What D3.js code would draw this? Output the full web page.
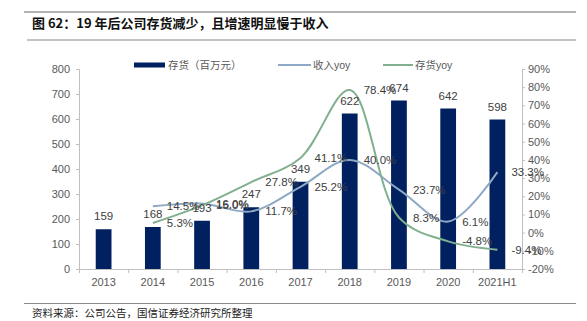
<!DOCTYPE html>
<html>
<head>
<meta charset="utf-8">
<script src="https://cdn.jsdelivr.net/npm/d3@7"></script>
<style>
  body { margin: 0; background: #fff; }
  svg { display: block; font-family: "Liberation Sans", Arial, sans-serif; }
  .cn { font-family: "Noto Sans CJK SC", sans-serif; }
</style>
</head>
<body>
<script>
  // chart data
  const years = ["2013", "2014", "2015", "2016", "2017", "2018", "2019", "2020", "2021H1"];
  const inventory = [159, 168, 193, 247, 349, 622, 674, 642, 598];
  const revenueYoy = [null, 14.5, 16.0, 11.7, 25.2, 40.0, 23.7, 6.1, 33.3];
  const inventoryYoy = [null, 5.3, 15.0, 27.8, 41.1, 78.4, 8.3, -4.8, -9.4];
  const leftTicks = [0, 100, 200, 300, 400, 500, 600, 700, 800];
  const rightTicks = [-20, -10, 0, 10, 20, 30, 40, 50, 60, 70, 80, 90];

  const W = 587, H = 321;
  const plot = { left: 79, right: 522, top: 69, bottom: 269 };

  const svg = d3.select("body").append("svg")
    .attr("width", W)
    .attr("height", H);

  // header / footer rules
  svg.append("line").attr("x1", 24).attr("x2", 576).attr("y1", 12).attr("y2", 12)
    .attr("stroke", "#6a6a6a").attr("stroke-width", 1.2);
  svg.append("line").attr("x1", 27).attr("x2", 576).attr("y1", 40).attr("y2", 40)
    .attr("stroke", "#8a8a8a").attr("stroke-width", 1.2);
  svg.append("line").attr("x1", 24).attr("x2", 576).attr("y1", 303.5).attr("y2", 303.5)
    .attr("stroke", "#8a8a8a").attr("stroke-width", 1.2);

  svg.append("text").attr("class", "cn")
    .attr("x", 32).attr("y", 28)
    .style("font-size", "13px").style("font-weight", "bold").attr("fill", "#111")
    .text("图 62：19 年后公司存货减少，且增速明显慢于收入");

  svg.append("text").attr("class", "cn")
    .attr("x", 32).attr("y", 317)
    .style("font-size", "10.5px").attr("fill", "#222")
    .text("资料来源：公司公告，国信证券经济研究所整理");

  // scales
  const x = d3.scaleBand().domain(years).range([plot.left, plot.right]).paddingInner(0.68).paddingOuter(0.34);
  const xc = d => x(d) + x.bandwidth() / 2;
  const y = d3.scaleLinear().domain([0, 800]).range([plot.bottom, plot.top]);
  const y2 = d3.scaleLinear().domain([-20, 90]).range([plot.bottom, plot.top]);

  const axisColor = "#bfbfbf";
  const labelColor = "#595959";

  // left axis
  const gl = svg.append("g").attr("transform", "translate(" + plot.left + ",0)")
    .call(d3.axisLeft(y).tickValues(leftTicks).tickSize(3).tickPadding(6));
  // right axis
  const gr = svg.append("g").attr("transform", "translate(" + plot.right + ",0)")
    .call(d3.axisRight(y2).tickValues(rightTicks).tickSize(3).tickPadding(3).tickFormat(d => d + "%"));
  // bottom axis, ticks between categories
  const xb = d3.scalePoint().domain(d3.range(years.length + 1)).range([plot.left, plot.right]);
  const gb = svg.append("g").attr("transform", "translate(0," + plot.bottom + ")")
    .call(d3.axisBottom(xb).tickSize(4).tickFormat(""));
  svg.append("g").attr("transform", "translate(0," + plot.bottom + ")")
    .call(d3.axisBottom(x).tickSize(0).tickPadding(9))
    .call(g => g.select(".domain").remove());

  svg.selectAll(".domain").attr("stroke", axisColor);
  svg.selectAll(".tick line").attr("stroke", axisColor);
  svg.selectAll(".tick text").attr("fill", labelColor).style("font-size", "11px")
    .style("font-family", "'Liberation Sans', Arial, sans-serif");

  // bars
  svg.selectAll("rect.bar")
    .data(inventory)
    .enter()
    .append("rect")
    .attr("class", "bar")
    .attr("x", (d, i) => x(years[i]))
    .attr("width", x.bandwidth())
    .attr("y", d => y(d))
    .attr("height", d => y(0) - y(d))
    .attr("fill", "#002060");

  // yoy lines
  const line = d3.line()
    .defined(d => d.v !== null)
    .x(d => xc(d.k))
    .y(d => y2(d.v))
    .curve(d3.curveCatmullRom.alpha(0.5));

  const series = [
    { values: revenueYoy, color: "#8ea9c3" },
    { values: inventoryYoy, color: "#80b08f" }
  ];

  series.forEach(s => {
    const pts = s.values.map((v, i) => ({ k: years[i], v: v })).filter(d => d.v !== null);
    svg.append("path")
      .datum(pts)
      .attr("d", line)
      .attr("fill", "none")
      .attr("stroke", s.color)
      .attr("stroke-width", 2);
  });

  // bar value labels
  svg.selectAll("text.barval")
    .data(inventory)
    .enter()
    .append("text")
    .attr("class", "barval")
    .attr("x", (d, i) => xc(years[i]))
    .attr("y", d => y(d) - 9)
    .attr("text-anchor", "middle")
    .attr("fill", "#404040")
    .style("font-size", "11.5px")
    .text(d => d);

  // yoy value labels, to the right of each point
  series.forEach(s => {
    svg.selectAll(null)
      .data(s.values.map((v, i) => ({ k: years[i], v: v })).filter(d => d.v !== null))
      .enter()
      .append("text")
      .attr("x", d => xc(d.k) + 14)
      .attr("y", d => y2(d.v) + 4)
      .attr("fill", "#404040")
      .style("font-size", "11.5px")
      .text(d => d.v.toFixed(1) + "%");
  });

  // legend
  const lg = svg.append("g").attr("transform", "translate(0,65)");
  lg.append("rect").attr("x", 134).attr("y", -2.5).attr("width", 31).attr("height", 5).attr("fill", "#002060");
  lg.append("text").attr("class", "cn").attr("x", 168).attr("y", 4)
    .attr("fill", labelColor).style("font-size", "10.5px").text("存货（百万元）");
  lg.append("line").attr("x1", 278).attr("x2", 311).attr("y1", 0).attr("y2", 0)
    .attr("stroke", "#8ea9c3").attr("stroke-width", 2);
  lg.append("text").attr("x", 313).attr("y", 4)
    .attr("fill", labelColor).style("font-size", "10.5px")
    .call(t => {
      t.append("tspan").attr("class", "cn").text("收入");
      t.append("tspan").text("yoy");
    });
  lg.append("line").attr("x1", 383).attr("x2", 413).attr("y1", 0).attr("y2", 0)
    .attr("stroke", "#80b08f").attr("stroke-width", 2);
  lg.append("text").attr("x", 415).attr("y", 4)
    .attr("fill", labelColor).style("font-size", "10.5px")
    .call(t => {
      t.append("tspan").attr("class", "cn").text("存货");
      t.append("tspan").text("yoy");
    });
</script>
</body>
</html>
